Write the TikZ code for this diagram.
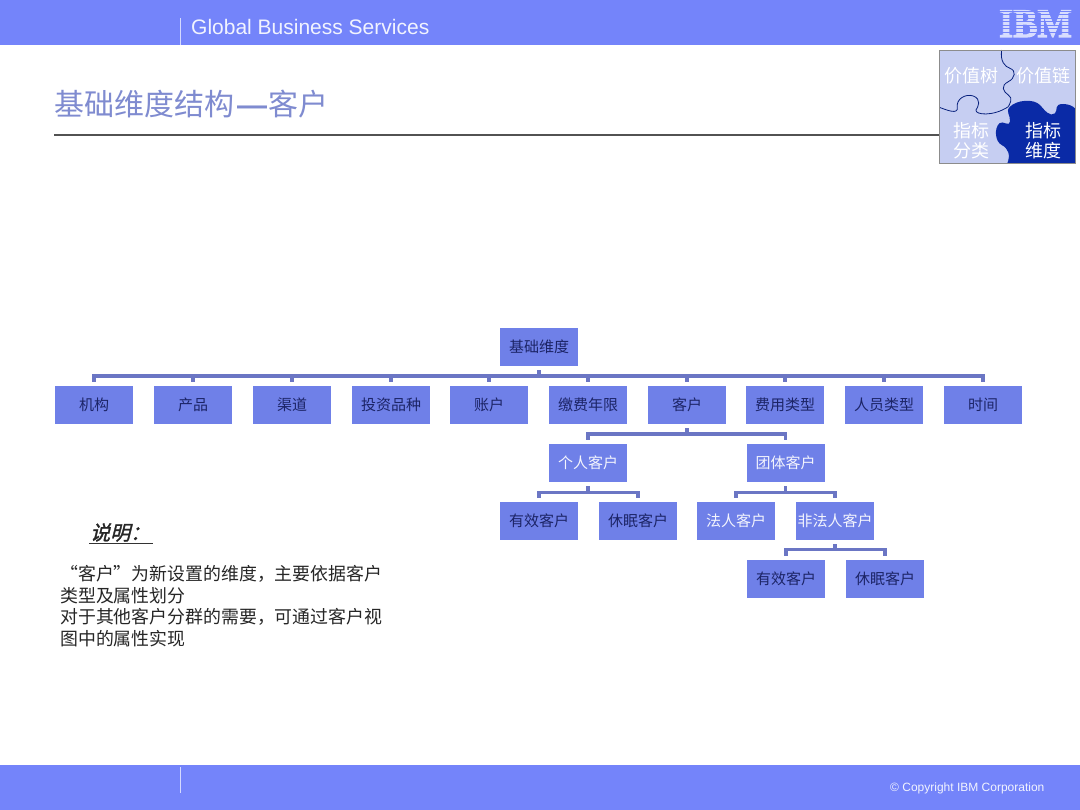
\documentclass[tikz,border=0pt]{standalone}
\usepackage{fontspec}
\setmainfont{Liberation Sans}
\newfontfamily\cjk{Noto Sans CJK SC}
\newfontfamily\cjkit[FakeSlant=0.25,FakeBold=1.5]{Noto Sans CJK SC}
\newfontfamily\dashfont{Liberation Sans Bold}
\newfontfamily\logofont[FakeBold=2.5]{Liberation Serif Bold}
\definecolor{bar}{HTML}{7484FA}
\definecolor{boxfill}{HTML}{6F80E8}
\definecolor{linkc}{HTML}{6B76C4}
\definecolor{darktx}{HTML}{1C2466}
\definecolor{titlec}{HTML}{7F8BD0}
\definecolor{puzl}{HTML}{C6CEF2}
\definecolor{puzd}{HTML}{0A2AA6}
\tikzset{
  dim/.style={fill=boxfill,draw=none,minimum width=78pt,minimum height=38pt,inner sep=0pt,font=\cjk\fontsize{15}{18}\selectfont,text=darktx},
  dimw/.style={dim,text=white!92!boxfill},
  link/.style={draw=linkc,line width=3.4pt,shorten >=4pt,shorten <=4pt},
  bartext/.style={text=white!90!bar,inner sep=0pt},
  puztext/.style={text=white,inner sep=0pt,align=center,font=\cjk\fontsize{18}{20}\selectfont},
  divider/.style={draw=white!70!bar,line width=1pt}
}
\begin{document}
\begin{tikzpicture}[x=1pt,y=-1pt]
\useasboundingbox (0,0) rectangle (1080,810);
\fill[white] (0,0) rectangle (1080,810);
% bars
\fill[bar] (0,0) rectangle (1080,45);
\fill[bar] (0,765) rectangle (1080,810);
\draw[divider] (180,18) -- (180,45);
\draw[divider] (180,767) -- (180,793);
\node[bartext,anchor=base west,font=\fontsize{21}{24}\selectfont] (gbs) at (191,35) {Global Business Services};
\node[bartext,anchor=base west,font=\fontsize{12}{14}\selectfont] (copy) at (890,791) {© Copyright IBM Corporation};
% IBM logo
\node[inner sep=0pt,anchor=base,text=white!72!bar,font=\logofont\fontsize{44}{44}\selectfont,xscale=.83,yscale=.92] (ibm) at (1035.5,37) {IBM};
\foreach \yy in {11,14.5,18,21.5,25,28.5,32}
  \fill[bar] (995,\yy) rectangle (1076,\yy+0.9);
% title
\node[anchor=base west,inner sep=0pt,text=titlec,font=\cjk\fontsize{30}{34}\selectfont] (title) at (54,116) {基础维度结构\kern3pt{\dashfont —}\kern1pt 客户};
\draw[draw=black!68,line width=1.5pt] (54,135) -- (940,135);
% puzzle
\begin{scope}[shift={(900,0)},x=0.33333pt,y=-0.33333pt]
  \fill[puzl] (118,150) rectangle (525,490);
  \fill[puzd] (322,490) .. controls (332,465) and (325,445) .. (305,435)
    .. controls (285,425) and (282,385) .. (298,370)
    .. controls (308,360) and (328,382) .. (330,365)
    .. controls (332,345) and (315,335) .. (330,320)
    .. controls (350,300) and (400,295) .. (420,315)
    .. controls (435,332) and (450,352) .. (465,340)
    .. controls (475,330) and (460,312) .. (490,312)
    .. controls (505,312) and (518,318) .. (525,325)
    -- (525,490) -- cycle;
  \draw[puzd!75!black,line width=.8pt] (305,150) .. controls (300,185) and (315,200) .. (330,205)
    .. controls (350,212) and (345,235) .. (325,245)
    .. controls (300,258) and (310,275) .. (325,285)
    .. controls (340,295) and (330,310) .. (325,320);
  \draw[puzd!75!black,line width=.8pt] (118,322) .. controls (140,330) and (175,345) .. (172,322)
    .. controls (168,298) and (195,280) .. (220,288)
    .. controls (245,298) and (235,320) .. (228,330)
    .. controls (225,345) and (280,350) .. (325,320);
  \draw[draw=black!45,line width=.6pt] (118,150) rectangle (525,490);
\end{scope}
\node[puztext] (p1) at (971,76) {价值树};
\node[puztext] (p2) at (1043,76) {价值链};
\node[puztext] (p3) at (971,141) {指标\\分类};
\node[puztext] (p4) at (1043.5,141) {指标\\维度};
% nodes
\node[dim] (root) at (539,347) {基础维度};
\node[dim] (a1) at (94,405) {机构};
\node[dim] (a2) at (193,405) {产品};
\node[dim] (a3) at (292,405) {渠道};
\node[dim] (a4) at (391,405) {投资品种};
\node[dim] (a5) at (489,405) {账户};
\node[dim] (a6) at (588,405) {缴费年限};
\node[dim] (a7) at (687,405) {客户};
\node[dim] (a8) at (785,405) {费用类型};
\node[dim] (a9) at (884,405) {人员类型};
\node[dim] (a10) at (983,405) {时间};
\node[dimw] (b1) at (588,463) {个人客户};
\node[dimw] (b2) at (785.5,463) {团体客户};
\node[dim] (c1) at (539,521) {有效客户};
\node[dim] (c2) at (638,521) {休眠客户};
\node[dimw] (c3) at (736,521) {法人客户};
\node[dimw] (c4) at (835,521) {非法人客户};
\node[dim] (d1) at (786,579) {有效客户};
\node[dim] (d2) at (885,579) {休眠客户};
% connectors
\foreach \k in {a1,a2,a3,a4,a5,a6,a7,a8,a9,a10}
  \draw[link] (root.south) -- ++(0,10) -| (\k.north);
\foreach \k in {b1,b2}
  \draw[link] (a7.south) -- ++(0,10) -| (\k.north);
\foreach \k in {c1,c2}
  \draw[link] (b1.south) -- ++(0,10) -| (\k.north);
\foreach \k in {c3,c4}
  \draw[link] (b2.south) -- ++(0,10) -| (\k.north);
\foreach \k in {d1,d2}
  \draw[link] (c4.south) -- ++(0,9) -| (\k.north);
% note
\node[anchor=base west,inner sep=0pt,text=black!85,font=\cjkit\fontsize{20}{24}\selectfont] (noteh) at (90,540) {说明：};
\draw[black!80,line width=1pt] (89,543.5) -- (153,543.5);
\node[anchor=north west,inner sep=0pt,text=black!85,align=left,font=\cjk\fontsize{17.9}{21.8}\selectfont] (note) at (60,565) {“客户”为新设置的维度，主要依据客户\\类型及属性划分\\对于其他客户分群的需要，可通过客户视\\图中的属性实现};
\end{tikzpicture}
\end{document}
